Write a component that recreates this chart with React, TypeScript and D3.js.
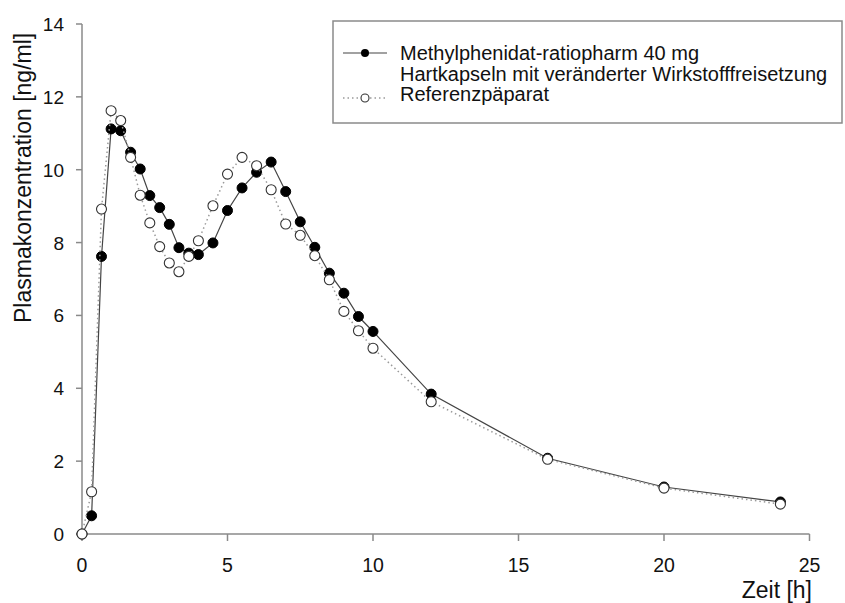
import React from "react";
import * as d3 from "d3";

const times = [0, 0.33, 0.67, 1, 1.33, 1.67, 2, 2.33, 2.67, 3, 3.33, 3.67, 4, 4.5, 5, 5.5, 6, 6.5, 7, 7.5, 8, 8.5, 9, 9.5, 10, 12, 16, 20, 24];
const testValues = [0, 0.5, 7.62, 11.12, 11.07, 10.48, 10.02, 9.29, 8.96, 8.5, 7.86, 7.71, 7.67, 7.99, 8.88, 9.5, 9.93, 10.21, 9.4, 8.57, 7.87, 7.16, 6.61, 5.97, 5.56, 3.84, 2.08, 1.29, 0.88];
const refValues = [0, 1.16, 8.92, 11.62, 11.35, 10.34, 9.3, 8.54, 7.89, 7.44, 7.2, 7.62, 8.05, 9.01, 9.88, 10.34, 10.11, 9.45, 8.51, 8.2, 7.64, 6.98, 6.11, 5.58, 5.1, 3.63, 2.05, 1.26, 0.82];
const xTicks = [0, 5, 10, 15, 20, 25];
const yTicks = [0, 2, 4, 6, 8, 10, 12, 14];
const legendTest = ["Methylphenidat-ratiopharm 40 mg", "Hartkapseln mit veränderter Wirkstofffreisetzung"];
const legendRef = "Referenzpäparat";
const xTitle = "Zeit [h]";
const yTitle = "Plasmakonzentration [ng/ml]";

const W = 845;
const H = 603;
const FONT = "'Liberation Sans', Arial, sans-serif";

export default function App() {
  const x = d3.scaleLinear().domain([0, 25]).range([82, 809.5]);
  const y = d3.scaleLinear().domain([0, 14]).range([534, 24]);
  const line = d3
    .line<number>()
    .x((_, i) => x(times[i]))
    .y((d) => y(d));
  const axisColor = "#8a8a8a";
  const textColor = "#111";
  const r = 5;

  return (
    <svg
      width={W}
      height={H}
      style={{ position: "absolute", left: 0, top: 0, background: "#fff" }}
      fontFamily={FONT}
    >
      <rect x={0} y={0} width={W} height={H} fill="#fff" />
      {/* axes */}
      <line x1={x(0)} x2={x(25)} y1={y(0)} y2={y(0)} stroke={axisColor} strokeWidth={1.5} />
      <line x1={x(0)} x2={x(0)} y1={y(0)} y2={y(14)} stroke={axisColor} strokeWidth={1.5} />
      {xTicks.map((t) => (
        <g key={"xt" + t}>
          <line x1={x(t)} x2={x(t)} y1={y(0)} y2={y(0) + 7} stroke={axisColor} strokeWidth={1.5} />
          <text x={x(t)} y={572} textAnchor="middle" fontSize={19.5} fill={textColor}>
            {t}
          </text>
        </g>
      ))}
      {yTicks.map((t) => (
        <g key={"yt" + t}>
          <line x1={x(0) - 6} x2={x(0)} y1={y(t)} y2={y(t)} stroke={axisColor} strokeWidth={1.5} />
          <text x={64} y={y(t) + 7} textAnchor="end" fontSize={19} fill={textColor}>
            {t}
          </text>
        </g>
      ))}
      <text x={812} y={598} textAnchor="end" fontSize={23} fill={textColor}>
        {xTitle}
      </text>
      <text
        transform={`translate(30.5,323) rotate(-90)`}
        textAnchor="start"
        fontSize={23}
        fill={textColor}
      >
        {yTitle}
      </text>

      {/* test series */}
      <path d={line(testValues) || ""} fill="none" stroke="#444" strokeWidth={1.2} />
      {testValues.map((v, i) => (
        <circle key={"t" + i} cx={x(times[i])} cy={y(v)} r={r} fill="#000" stroke="#000" strokeWidth={1} />
      ))}
      {/* reference series */}
      <path d={line(refValues) || ""} fill="none" stroke="#9a9a9a" strokeWidth={1.5} strokeDasharray="1.5,3" />
      {refValues.map((v, i) => (
        <circle key={"r" + i} cx={x(times[i])} cy={y(v)} r={r} fill="#fff" stroke="#333" strokeWidth={1.1} />
      ))}

      {/* legend */}
      <rect x={333} y={21} width={509} height={102} fill="#fff" stroke={axisColor} strokeWidth={1.5} />
      <line x1={343} x2={387} y1={53} y2={53} stroke="#444" strokeWidth={1.2} />
      <circle cx={365} cy={53} r={4} fill="#000" />
      <text x={400} y={60} fontSize={20} fill={textColor}>
        {legendTest[0]}
      </text>
      <text x={400} y={80.5} fontSize={20} fill={textColor}>
        {legendTest[1]}
      </text>
      <line x1={343} x2={387} y1={98} y2={98} stroke="#9a9a9a" strokeWidth={1.5} strokeDasharray="1.5,3" />
      <circle cx={365} cy={98} r={4} fill="#fff" stroke="#333" strokeWidth={1.1} />
      <text x={400} y={101} fontSize={20} fill={textColor}>
        {legendRef}
      </text>
    </svg>
  );
}
